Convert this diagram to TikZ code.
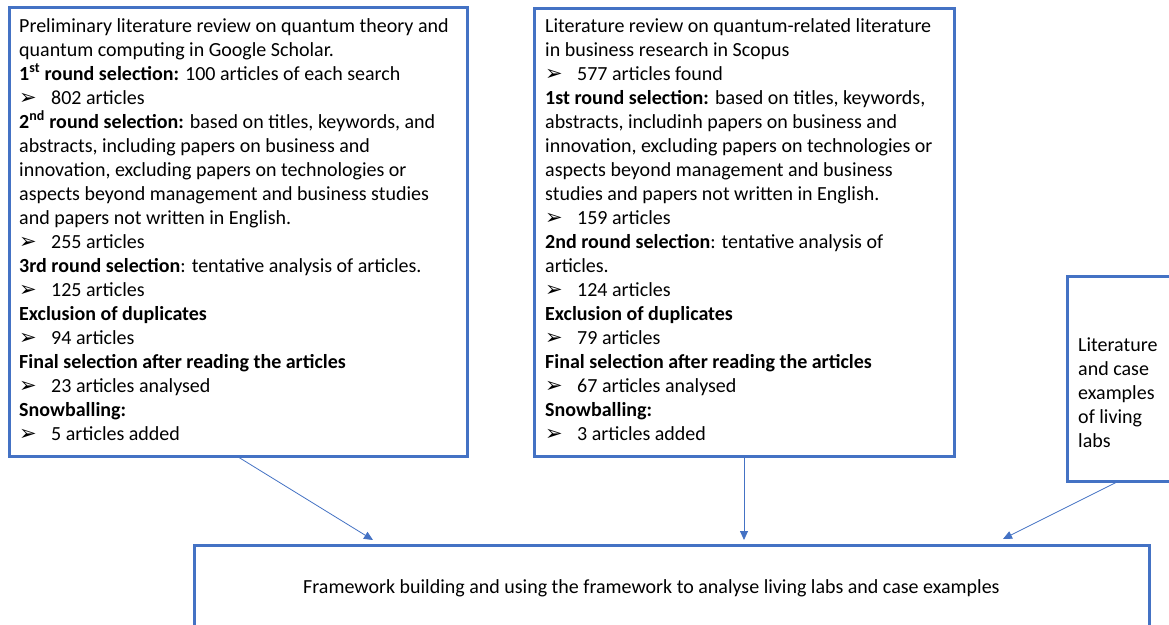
\documentclass[tikz,border=0pt]{standalone}
\usepackage{fontspec}
\setmainfont{Carlito}
\newfontfamily\dejavu{DejaVu Sans}
\usetikzlibrary{arrows.meta}
\definecolor{obl}{HTML}{4472C4}
\newcommand{\bul}{\makebox[32pt][l]{\raisebox{-0.5pt}{\dejavu\fontsize{21}{21}\selectfont ➢}}}
\begin{document}
\begin{tikzpicture}[x=1pt,y=-1pt,
  box/.style={draw=obl,line width=2.5pt,inner sep=0pt,anchor=north west},
  txt/.style={anchor=base west,inner sep=0pt,align=left,font=\fontsize{20}{24}\selectfont},
  conn/.style={draw=obl,line width=0.8pt,-{Triangle[length=9pt,width=8pt]}}]
\useasboundingbox (0,0) rectangle (1169,624);
\clip (0,0) rectangle (1169,624);
\fill[white] (0,0) rectangle (1169,624);

\node[box,minimum width=458pt,minimum height=449pt] (b1) at (8,6) {};
\node[box,minimum width=420pt,minimum height=448pt] (b2) at (533,7) {};
\node[box,minimum width=200pt,minimum height=205pt] (b3) at (1066,275) {};
\node[box,minimum width=955pt,minimum height=200pt] (b4) at (193,544) {};

\node[txt] (t1) at (19,440) {Preliminary literature review on quantum theory and\\
quantum computing in Google Scholar.\\
\textbf{1\textsuperscript{st} round selection:} 100 articles of each search\\
\bul 802 articles\\
\textbf{2\textsuperscript{nd} round selection:} based on titles, keywords, and\\
abstracts, including papers on business and\\
innovation, excluding papers on technologies or\\
aspects beyond management and business studies\\
and papers not written in English.\\
\bul 255 articles\\
\textbf{3rd round selection}: tentative analysis of articles.\\
\bul 125 articles\\
\textbf{Exclusion of duplicates}\\
\bul 94 articles\\
\textbf{Final selection after reading the articles}\\
\bul 23 articles analysed\\
\textbf{Snowballing:}\\
\bul 5 articles added};

\node[txt] (t2) at (545,440) {Literature review on quantum-related literature\\
in business research in Scopus\\
\bul 577 articles found\\
\textbf{1st round selection:} based on titles, keywords,\\
abstracts, includinh papers on business and\\
innovation, excluding papers on technologies or\\
aspects beyond management and business\\
studies and papers not written in English.\\
\bul 159 articles\\
\textbf{2nd round selection}: tentative analysis of\\
articles.\\
\bul 124 articles\\
\textbf{Exclusion of duplicates}\\
\bul 79 articles\\
\textbf{Final selection after reading the articles}\\
\bul 67 articles analysed\\
\textbf{Snowballing:}\\
\bul 3 articles added};

\node[txt] (t3) at (1078,447) {Literature\\and case\\examples\\of living\\labs};

\node[txt] (t4) at (303,593) {Framework building and using the framework to analyse living labs and case examples};

\coordinate (s1) at ([xshift=231pt]b1.south west);
\coordinate (e1) at ([xshift=180pt,yshift=4pt]b4.north west);
\coordinate (s2) at ([xshift=211pt]b2.south west);
\coordinate (e2) at ([xshift=551pt,yshift=4pt]b4.north west);
\coordinate (s3) at ([xshift=50pt]b3.south west);
\coordinate (e3) at ([xshift=810pt,yshift=5pt]b4.north west);
\draw[conn] (s1) -- (e1);
\draw[conn] (s2) -- (e2);
\draw[conn] (s3) -- (e3);
\end{tikzpicture}
\end{document}
